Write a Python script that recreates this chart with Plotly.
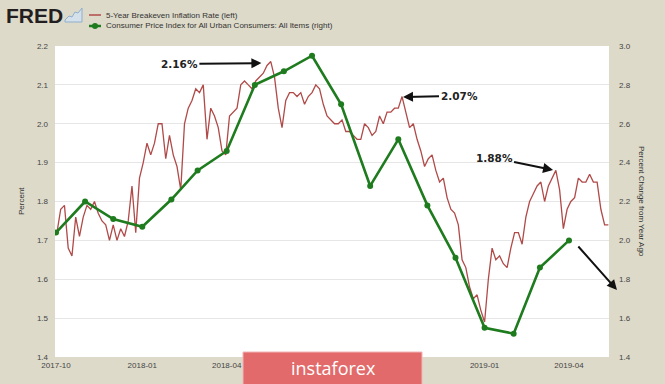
import plotly.graph_objects as go
import pandas as pd

# ---------------- data ----------------
# 5-Year Breakeven Inflation Rate (left axis), sampled every 4 days from 2017-10-02
breakeven_values = [
    1.72, 1.78, 1.79, 1.68, 1.66, 1.76, 1.71, 1.76, 1.79, 1.78,
    1.80, 1.77, 1.75, 1.74, 1.70, 1.74, 1.70, 1.73, 1.71, 1.75,
    1.84, 1.72, 1.86, 1.90, 1.95, 1.92, 1.95, 2.00, 2.00, 1.91,
    1.97, 1.92, 1.89, 1.83, 2.00, 2.04, 2.06, 2.09, 2.08, 2.10,
    1.96, 2.04, 2.02, 1.99, 1.93, 1.92, 2.02, 2.03, 2.04, 2.10,
    2.11, 2.10, 2.09, 2.11, 2.12, 2.13, 2.15, 2.16, 2.12, 2.04,
    1.99, 2.06, 2.08, 2.08, 2.07, 2.08, 2.05, 2.07, 2.08, 2.10,
    2.09, 2.05, 2.02, 2.01, 2.00, 2.00, 2.01, 1.98, 1.98, 1.97,
    1.96, 1.96, 2.00, 1.99, 1.97, 1.98, 2.02, 2.00, 2.03, 2.03,
    2.04, 2.04, 2.07, 2.03, 1.99, 2.00, 1.96, 1.93, 1.89, 1.91,
    1.92, 1.88, 1.85, 1.86, 1.81, 1.78, 1.77, 1.74, 1.65, 1.63,
    1.58, 1.55, 1.56, 1.52, 1.49, 1.60, 1.68, 1.65, 1.66, 1.64,
    1.63, 1.68, 1.72, 1.72, 1.69, 1.76, 1.80, 1.82, 1.84, 1.85,
    1.80, 1.84, 1.86, 1.88, 1.83, 1.73, 1.78, 1.80, 1.81, 1.86,
    1.85, 1.85, 1.87, 1.85, 1.85, 1.78, 1.74, 1.74,
]
breakeven_dates = pd.date_range("2017-10-02", periods=len(breakeven_values), freq="4D")

# CPI, all items, percent change from year ago (right axis), monthly
cpi_dates = pd.date_range("2017-10-01", "2019-04-01", freq="MS")
cpi_values = [2.04, 2.20, 2.11, 2.07, 2.21, 2.36, 2.46, 2.80, 2.87, 2.95,
              2.70, 2.28, 2.52, 2.18, 1.91, 1.55, 1.52, 1.86, 2.00]

left_ticks = [1.4, 1.5, 1.6, 1.7, 1.8, 1.9, 2.0, 2.1, 2.2]
right_ticks = [1.4, 1.6, 1.8, 2.0, 2.2, 2.4, 2.6, 2.8, 3.0]
# (2018-07 and 2018-10 are hidden under the watermark in the reference)
x_tick_dates = ["2017-10-01", "2018-01-01", "2018-04-01",
                "2019-01-01", "2019-04-01"]

series_names = ["5-Year Breakeven Inflation Rate (left)",
                "Consumer Price Index for All Urban Consumers: All Items (right)"]

# callouts: (text, date, value, dx, dy)
callouts = [("2.16%", "2018-05-08", 2.156, -82, 1),
            ("2.07%", "2018-10-06", 2.069, 56, -1),
            ("1.88%", "2019-03-15", 1.881, -59, -12)]

# ---------------- styling / layout helpers ----------------
W, H = 665, 384
L, R, T, B = 55, 56, 46, 27
PW, PH = W - L - R, H - T - B


def px(x):
    return (x - L) / PW


def py(y):
    return (H - B - y) / PH


BG = "#dddac9"
RED = "#b04a48"
GREEN = "#1e7b1e"
FONT = "Liberation Sans, Arial, sans-serif"

fig = go.Figure()
fig.add_trace(go.Scatter(
    x=breakeven_dates, y=breakeven_values, name=series_names[0],
    mode="lines", line=dict(color=RED, width=1.3), connectgaps=False,
    yaxis="y", showlegend=False))
fig.add_trace(go.Scatter(
    x=cpi_dates, y=cpi_values, name=series_names[1],
    mode="lines+markers", line=dict(color=GREEN, width=2.6),
    marker=dict(color=GREEN, size=6), yaxis="y2", showlegend=False))

annotations = []
for text, d, v, dx, dy in callouts:
    annotations.append(dict(
        x=d, y=v, xref="x", yref="y", text="<b>%s</b>" % text,
        showarrow=True, ax=dx, ay=dy, axref="pixel", ayref="pixel",
        arrowhead=2, arrowsize=1, arrowwidth=2, arrowcolor="#111",
        font=dict(family="DejaVu Sans, sans-serif", size=10.5, color="#222")))
# lone arrow on the right
annotations.append(dict(
    x=px(617), y=py(290), xref="paper", yref="paper", text="",
    showarrow=True, ax=-40, ay=-45, axref="pixel", ayref="pixel",
    arrowhead=2, arrowsize=1, arrowwidth=2, arrowcolor="#111"))

# axis titles
annotations.append(dict(x=px(15), y=0.5, xref="paper", yref="paper",
                        text="Percent", textangle=-90, showarrow=False,
                        font=dict(family=FONT, size=8, color="#333")))
annotations.append(dict(x=px(648), y=0.5, xref="paper", yref="paper",
                        text="Percent Change from Year Ago", textangle=90,
                        showarrow=False,
                        font=dict(family=FONT, size=8, color="#333")))

# legend texts
for name, yy in zip(series_names, [15, 26]):
    annotations.append(dict(x=px(104), y=py(yy), xref="paper", yref="paper",
                            text=name, xanchor="left", yanchor="middle",
                            showarrow=False,
                            font=dict(family=FONT, size=8, color="#333")))

# FRED logo text
annotations.append(dict(x=px(4), y=py(15.5), xref="paper", yref="paper",
                        text="<b>FRED</b>", xanchor="left", yanchor="middle",
                        showarrow=False,
                        font=dict(family=FONT, size=21, color="#231f20")))

# watermark
annotations.append(dict(x=px(333), y=py(368), xref="paper", yref="paper",
                        text="instaforex", xanchor="center", yanchor="middle",
                        showarrow=False,
                        font=dict(family="Open Sans, sans-serif", size=18,
                                  color="#ffffff")))

shapes = [
    # legend symbols
    dict(type="line", xref="paper", yref="paper", x0=px(89), x1=px(101),
         y0=py(15), y1=py(15), line=dict(color=RED, width=1.5)),
    dict(type="line", xref="paper", yref="paper", x0=px(89), x1=px(101),
         y0=py(26), y1=py(26), line=dict(color=GREEN, width=2.5)),
    dict(type="circle", xref="paper", yref="paper", x0=px(92), x1=px(98),
         y0=py(29), y1=py(23), fillcolor=GREEN, line=dict(color=GREEN, width=0)),
    # FRED icon
    dict(type="path", xref="paper", yref="paper",
         path="M %f,%f L %f,%f L %f,%f L %f,%f L %f,%f L %f,%f L %f,%f L %f,%f Z" % (
             px(65), py(22), px(65), py(20), px(69), py(16), px(72), py(17),
             px(75), py(12), px(78), py(13), px(82), py(8), px(82), py(22)),
         fillcolor="#d4e0ea", line=dict(color="#8fb0cf", width=1)),
    # watermark box
    dict(type="rect", xref="paper", yref="paper", x0=px(243), x1=px(422),
         y0=py(386), y1=py(352), fillcolor="#e26a6a",
         line=dict(color="#f3b5b5", width=1), layer="above"),
]

fig.update_layout(
    width=W, height=H, autosize=False,
    margin=dict(l=L, r=R, t=T, b=B, pad=0),
    paper_bgcolor=BG, plot_bgcolor="#ffffff",
    font=dict(family=FONT, size=8, color="#444"),
    xaxis=dict(type="date",
               range=["2017-09-29 22:00", "2019-05-13 16:00"],
               tickvals=x_tick_dates, tickformat="%Y-%m",
               showgrid=False, zeroline=False, showline=False,
               ticks="", ticklabelstandoff=2,
               tickfont=dict(family=FONT, size=8, color="#444")),
    yaxis=dict(range=[1.4, 2.2], tickvals=left_ticks, tickformat=".1f",
               showgrid=True, gridcolor="#e6e6e6", gridwidth=1,
               zeroline=False, showline=False, ticks="",
               ticklabelstandoff=6,
               tickfont=dict(family=FONT, size=8, color="#444")),
    yaxis2=dict(range=[1.4, 3.0], tickvals=right_ticks, tickformat=".1f",
                overlaying="y", side="right", showgrid=False,
                zeroline=False, showline=False, ticks="",
                ticklabelstandoff=9,
                tickfont=dict(family=FONT, size=8, color="#444")),
    annotations=annotations,
    shapes=shapes,
    showlegend=False,
)

fig.write_html("out.html", config={"displayModeBar": False},
               post_script="document.body.style.margin='0';")
